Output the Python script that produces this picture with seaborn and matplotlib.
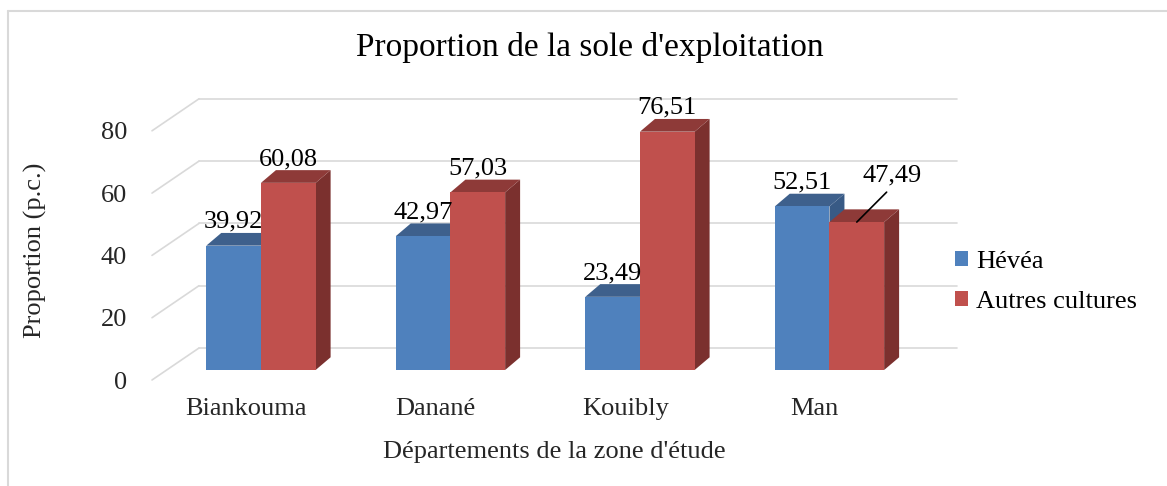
import matplotlib
matplotlib.use("Agg")
import numpy as np
import pandas as pd
import matplotlib.pyplot as plt
import seaborn as sns
from matplotlib.patches import Polygon
from matplotlib.lines import Line2D

# --- données ---
departements = ["Biankouma", "Danané", "Kouibly", "Man"]
cultures = ["Hévéa", "Autres cultures"]
hevea = [39.92, 42.97, 23.49, 52.51]
autres = [60.08, 57.03, 76.51, 47.49]
yticks = [0, 20, 40, 60, 80]

front_col = {"Hévéa": "#4F81BD", "Autres cultures": "#C0504D"}
top_col = {"Hévéa": "#3E608C", "Autres cultures": "#8E3A38"}
side_col = {"Hévéa": "#385A85", "Autres cultures": "#7B302E"}

df = pd.DataFrame({
    "departement": departements * 2,
    "culture": [c for c in cultures for _ in departements],
    "valeur": hevea + autres,
})

# pseudo-3D (Excel) : profondeurs en unités de données
W, H = 1167, 486
bar_dx, bar_dy = 0.079, 4.08      # profondeur des barres
wall_dx, wall_dy = 0.248, 10.27   # profondeur du plancher -> mur du fond
floor_dx, floor_dy = -0.0776, -3.21  # bord avant du plancher par rapport aux barres
xmin, xmax = -0.575, 3.673
ymin, ymax = -3.21, 87.64

sns.set_theme(style="white")
plt.rcParams["font.family"] = ["Liberation Serif", "DejaVu Serif"]
plt.rcParams["text.color"] = "black"
fs = 19

fig = plt.figure(figsize=(W / 100, H / 100), dpi=100)
ax = fig.add_axes([152 / W, 1 - 380 / H, 805 / W, 283 / H])

sns.barplot(data=df, x="departement", y="valeur", hue="culture",
            palette=front_col, width=0.577, saturation=1, linewidth=0,
            ax=ax, zorder=3)
handles, labels = ax.get_legend_handles_labels()
ax.get_legend().remove()

ax.set_xlim(xmin, xmax)
ax.set_ylim(ymin, ymax)
sns.despine(ax=ax, left=True, bottom=True)

# quadrillage : mur du fond + diagonales du mur gauche
grid_c = "#D9D9D9"
for t in yticks:
    ax.plot([xmin + wall_dx, xmax], [t + floor_dy + wall_dy] * 2,
            color=grid_c, lw=1.2, zorder=0, clip_on=False)
    ax.plot([xmin, xmin + wall_dx], [t + floor_dy, t + floor_dy + wall_dy],
            color=grid_c, lw=1.2, zorder=0, clip_on=False)

# faces supérieures et latérales
for cont, cult in zip(ax.containers, cultures):
    for rect in cont:
        x0, w, h = rect.get_x(), rect.get_width(), rect.get_height()
        x1 = x0 + w
        top = Polygon([(x0, h), (x1, h), (x1 + bar_dx, h + bar_dy), (x0 + bar_dx, h + bar_dy)],
                      closed=True, fc=top_col[cult], ec="none", zorder=2.5)
        side = Polygon([(x1, 0), (x1 + bar_dx, bar_dy), (x1 + bar_dx, h + bar_dy), (x1, h)],
                       closed=True, fc=side_col[cult], ec="none", zorder=2.5)
        ax.add_patch(side)
        ax.add_patch(top)

# étiquettes de données
moved = {("Man", "Autres cultures"): (0.185, 12.9)}
for cont, cult in zip(ax.containers, cultures):
    for rect, dep in zip(cont, departements):
        h = rect.get_height()
        xc = rect.get_x() + rect.get_width() / 2
        txt = f"{h:.2f}".replace(".", ",")
        if (dep, cult) in moved:
            ox, oy = moved[(dep, cult)]
            ax.annotate(txt, xy=(xc, h), xytext=(xc + ox, h + oy),
                        ha="center", va="baseline", fontsize=fs, zorder=5,
                        arrowprops=dict(arrowstyle="-", color="black", lw=1.2,
                                        shrinkA=2, shrinkB=0, relpos=(0.5, 0)))
        else:
            ax.text(xc, h + 5.7, txt, ha="center", va="baseline",
                    fontsize=fs, zorder=5)

# axes
ax.set_yticks([t + floor_dy for t in yticks], labels=[str(t) for t in yticks])
ax.set_xticks(np.arange(len(departements)) + floor_dx, labels=departements)
ax.tick_params(axis="y", length=0, pad=18, labelsize=fs)
ax.tick_params(axis="x", length=0, pad=13, labelsize=fs)

ax.set_xlabel("Départements de la zone d'étude", fontsize=fs)
ax.xaxis.set_label_coords((554 - 152) / 805, (380 - 452) / 283)
ax.xaxis.label.set_va("center")
ax.set_ylabel("Proportion (p.c.)", fontsize=fs)
ax.yaxis.set_label_coords((35 - 152) / 805, (380 - 250) / 283)
ax.yaxis.label.set_va("center")

fig.text(590 / W, 1 - 47 / H, "Proportion de la sole d'exploitation",
         ha="center", va="center", fontsize=24)

fig.legend(handles, labels, loc="center left",
           bbox_to_anchor=(955 / W, 1 - 282 / H), frameon=False,
           handlelength=0.5, handleheight=0.5, handletextpad=0.3,
           labelspacing=0.7, borderpad=0, borderaxespad=0, fontsize=fs)

# cadre extérieur
fig.add_artist(Line2D([8 / W, 8 / W], [0, 1 - 11 / H], transform=fig.transFigure,
                      color=grid_c, lw=1.5))
fig.add_artist(Line2D([8 / W, 1], [1 - 11 / H, 1 - 11 / H], transform=fig.transFigure,
                      color=grid_c, lw=1.5))

fig.savefig("out.png", dpi=100)
